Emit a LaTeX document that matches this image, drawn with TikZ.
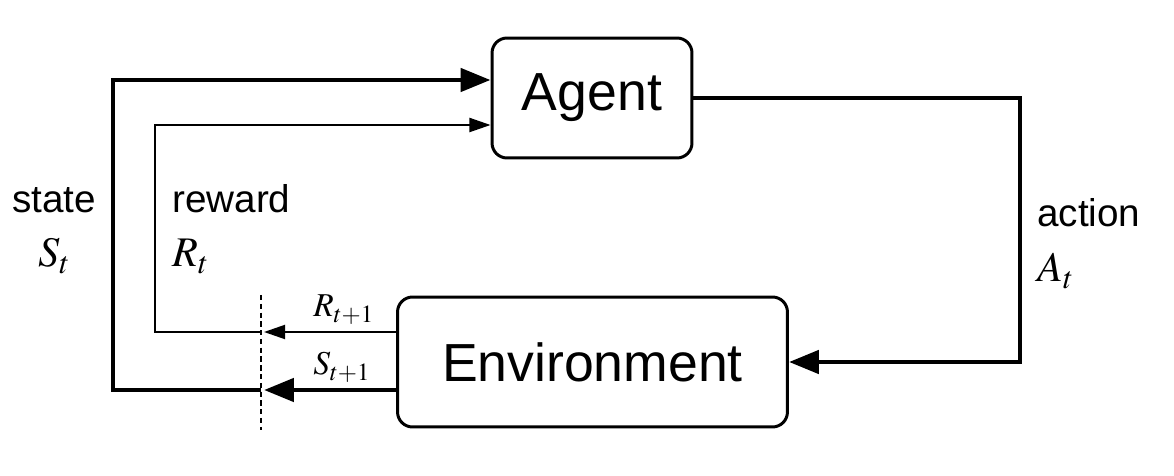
\documentclass[tikz,border=0pt]{standalone}
\usepackage{mathptmx}
\usepackage[no-math]{fontspec}
\setmainfont{Liberation Sans}
\usetikzlibrary{positioning,calc,arrows.meta}
\tikzset{
  box/.style={draw,rounded corners=0.3cm,line width=1.7pt,font=\fontsize{30.5}{34}\selectfont,inner sep=0pt},
  thk/.style={line width=2.8pt,line join=miter},
  thn/.style={line width=1.1pt,line join=miter},
  bigtip/.style={-{Triangle[length=17pt,width=13pt]}},
  smalltip/.style={-{Triangle[length=12pt,width=8pt]}},
  lbl/.style={font=\fontsize{22}{26}\selectfont,inner sep=0pt,anchor=base west},
  sym/.style={font=\fontsize{24}{28}\selectfont,inner sep=0pt,anchor=base west},
  subsym/.style={font=\fontsize{19}{22}\selectfont,inner sep=0pt,anchor=base west},
}
\begin{document}
\begin{tikzpicture}[x=0.02cm,y=-0.02cm]
  \useasboundingbox (0,0) rectangle (1174,476);
  % boxes
  \node[box,minimum width=4cm,minimum height=2.4cm] (agent) at (592,98) {Agent};
  \node[box,minimum width=7.8cm,minimum height=2.6cm] (env) at (592.5,362) {Environment};
  % junctions and bends
  \coordinate (dTop) at (261,295);
  \coordinate (dBot) at (261,430);
  \coordinate (rJ) at (261,332);
  \coordinate (sJ) at (261,390);
  \coordinate (sTop) at (113,80);
  \coordinate (rTop) at (155,125);
  \coordinate (aC) at (1020,230);
  % time step divider
  \draw[line width=0.9pt,dash pattern=on 3pt off 2pt] (dTop) -- (dBot);
  % state and reward loops
  \draw[thk,bigtip] (sJ) -| (sTop) -- (sTop -| agent.west);
  \draw[thn,smalltip] (rJ) -| (rTop) -- (rTop -| agent.west);
  \draw[thk,bigtip] (env.west |- sJ) -- ($(sJ)+(3,0)$);
  \draw[thn,smalltip] (env.west |- rJ) -- ($(rJ)+(3,0)$);
  % action
  \draw[thk,bigtip] (agent.east) -| (aC) |- (env.east);
  % labels
  \node[lbl] (lState) at (12,213) {state};
  \node[sym] (lSt) at (38,267) {$S_t$};
  \node[lbl] (lReward) at (172,213) {reward};
  \node[sym] (lRt) at (172,267) {$R_t$};
  \node[lbl] (lAction) at (1037,227) {action};
  \node[sym] (lAt) at (1037,282) {$A_t$};
  \node[subsym] (lRn) at (313,317) {$R_{t+1}$};
  \node[subsym] (lSn) at (313,375) {$S_{t+1}$};
\end{tikzpicture}
\end{document}
